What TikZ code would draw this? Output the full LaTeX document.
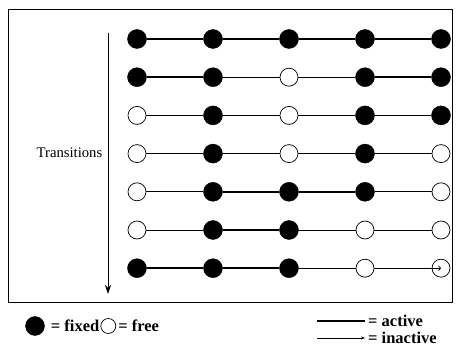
\documentclass[tikz,border=0pt]{standalone}
\usepackage{fontspec}
\setmainfont{Liberation Serif}
\usepackage{tikz}
\usetikzlibrary{positioning,arrows.meta}

\begin{document}
\begin{tikzpicture}
            [x=1pt, y=-1pt,
            fixed/.style={circle, draw, fill=black, minimum size=19pt, inner sep=0pt},
            free/.style={circle, draw, fill=white, line width=0.7pt, minimum size=18pt, inner sep=0pt},
            active/.style={line width=1.5pt},
            inactive/.style={line width=0.7pt},
            legend/.style={inner sep=0pt, font=\fontsize{16.5}{18}\selectfont\bfseries}]

            \useasboundingbox (0,0) rectangle (456,350);
            \draw[line width=0.9pt] (8,9) rectangle (452,302);

            % chain states, one row per transition
            \foreach \row/\states/\links in {
                1/{fixed,fixed,fixed,fixed,fixed}/{active,active,active,active},
                2/{fixed,fixed,free,fixed,fixed}/{active,inactive,inactive,active},
                3/{free,fixed,free,fixed,fixed}/{inactive,inactive,inactive,active},
                4/{free,fixed,free,fixed,free}/{inactive,inactive,inactive,inactive},
                5/{free,fixed,fixed,fixed,free}/{inactive,active,active,inactive},
                6/{free,fixed,fixed,free,free}/{inactive,active,inactive,inactive},
                7/{fixed,fixed,fixed,free,free}/{active,active,inactive}} {
                \foreach \s [count=\col] in \states
                    \node[\s] (n\row-\col) at ({137+76*(\col-1)}, {39+38.2*(\row-1)}) {};
                \foreach \l [count=\c] in \links {
                    \pgfmathtruncatemacro\d{\c+1}
                    \draw[\l] (n\row-\c) -- (n\row-\d);
                }
            }
            \draw[inactive, -{Straight Barb[length=2pt, width=5pt]}] (n7-4) -- (n7-5.center);

            \coordinate (top) at (108,33);
            \coordinate (bot) at (108,294);
            \draw[line width=0.8pt, -{Stealth[length=9pt, width=6pt]}] (top) -- (bot);
            \node[anchor=east, inner sep=0pt, font=\fontsize{14.7}{16}\selectfont] (trans) at (102.5,153) {Transitions};

            % legend
            \node[fixed] (kfix) at (35,326) {};
            \node[legend, right=6pt of kfix] (tfix) {= fixed};
            \node[free, minimum size=15pt, right=1pt of tfix] (kfree) {};
            \node[legend, right=2pt of kfree] (tfree) {= free};

            \coordinate (act1) at (317,321);
            \coordinate (act2) at (365,321);
            \draw[active] (act1) -- (act2);
            \node[legend, right=3pt of act2] (tact) {= active};
            \coordinate (ina1) at (317,338);
            \coordinate (ina2) at (365,338);
            \draw[inactive, -{Stealth[length=4pt, width=3pt]}] (ina1) -- (ina2);
            \node[legend, right=3pt of ina2] (tina) {= inactive};
        \end{tikzpicture}
\end{document}
